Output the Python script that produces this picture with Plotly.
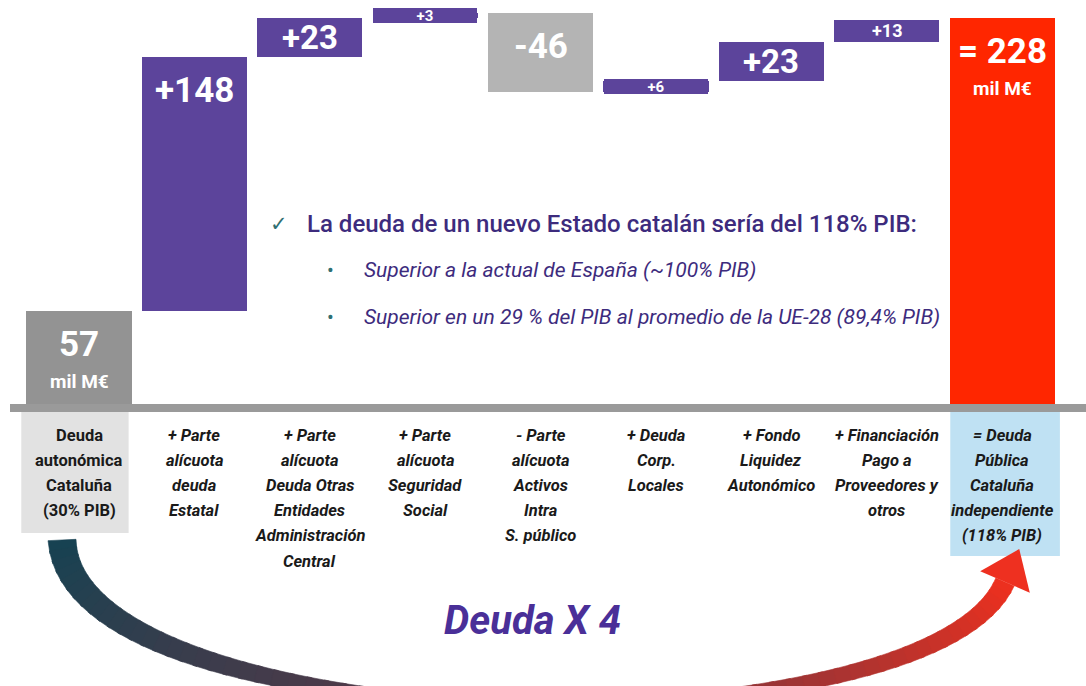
import numpy as np
import plotly.graph_objects as go

# ---------------- data ----------------
categories = [
    ["Deuda", "autonómica", "Cataluña", "(30% PIB)"],
    ["+ Parte", "alícuota", "deuda", "Estatal"],
    ["+ Parte", "alícuota", "Deuda Otras", "Entidades", "Administración", "Central"],
    ["+ Parte", "alícuota", "Seguridad", "Social"],
    ["- Parte", "alícuota", "Activos", "Intra", "S. público"],
    ["+ Deuda", "Corp.", "Locales"],
    ["+ Fondo", "Liquidez", "Autonómico"],
    ["+ Financiación", "Pago a", "Proveedores y", "otros"],
    ["= Deuda", "Pública", "Cataluña", "independiente", "(118% PIB)"],
]
values = [57, 148, 23, 3, -46, 6, 23, 13, 228]
measures = ["absolute", "relative", "relative", "relative", "relative",
            "relative", "relative", "relative", "total"]
unit_label = "mil M€"

headline = "La deuda de un nuevo Estado catalán sería del 118% PIB:"
bullets = ["Superior a la actual de España (~100% PIB)",
           "Superior en un 29 % del PIB al promedio de la UE-28 (89,4% PIB)"]
big_label = "Deuda X 4"

# ---------------- styles ----------------
PURPLE = "#5c449b"
bar_colors = ["#939393", PURPLE, PURPLE, PURPLE, "#b4b4b4", PURPLE, PURPLE, PURPLE, "#ff2600"]
FONT = "Roboto, Liberation Sans, sans-serif"
W, H = 1086, 686
Y0_PX, YTOP_PX = 408, 13   # pixel rows of value 0 and of the max running total

# ---------------- waterfall geometry from data ----------------
bases, heights, tops, bottoms = [], [], [], []
running = 0
for v, m in zip(values, measures):
    if m in ("absolute", "total"):
        b = 0
        running = v
    else:
        b = running
        running = running + v
    bases.append(b)
    heights.append(v)
    tops.append(max(b, b + v))
    bottoms.append(min(b, b + v))

ymax = max(tops)
scale = (Y0_PX - YTOP_PX) / ymax          # px per unit
y_range = [-(H - Y0_PX) / scale, Y0_PX / scale]
x_step = 115.4
x_c0 = 79.0
x_range = [-x_c0 / x_step, (W - x_c0) / x_step]
xs = list(range(len(values)))

fig = go.Figure()
fig.add_trace(go.Bar(
    x=xs, y=heights, base=bases, width=0.91,
    marker=dict(color=bar_colors, line=dict(width=0)),
    hoverinfo="skip", showlegend=False,
))


def ppx(px):
    return px / W


def ppy(py):
    return 1 - py / H


annotations = []
shapes = []

# bar value labels
for i, (v, m) in enumerate(zip(values, measures)):
    hpx = (tops[i] - bottoms[i]) * scale
    if m == "absolute":
        txt = f"<b>{v}</b>"
    elif m == "total":
        txt = f"<b>= {v}</b>"
    else:
        txt = f"<b>{v:+d}</b>"
    if hpx > 70:
        annotations.append(dict(x=i, y=tops[i], xref="x", yref="y", text=txt,
                                showarrow=False, yanchor="top", yshift=-11,
                                font=dict(family=FONT, size=35, color="white")))
        if m != "relative":
            annotations.append(dict(x=i, y=tops[i], xref="x", yref="y",
                                    text=f"<b>{unit_label}</b>",
                                    showarrow=False, yanchor="top", yshift=-57,
                                    font=dict(family=FONT, size=19, color="white")))
    elif hpx > 30:
        annotations.append(dict(x=i, y=(tops[i] + bottoms[i]) / 2, xref="x", yref="y",
                                text=txt, showarrow=False, yanchor="middle",
                                font=dict(family=FONT, size=33, color="white")))
    else:
        small = hpx < 16
        annotations.append(dict(x=i, y=(tops[i] + bottoms[i]) / 2, xref="x", yref="y",
                                text=txt, showarrow=False, yanchor="middle",
                                bgcolor=bar_colors[i] if small else None,
                                width=104 if small else None, height=15 if small else None,
                                borderpad=0, borderwidth=0,
                                font=dict(family=FONT, size=15 if small else 18, color="white")))

# category labels, one line at a time
LINE0, LINE_STEP = 435, 25.2
for i, lines in enumerate(categories):
    for k, ln in enumerate(lines):
        txt = f"<b>{ln}</b>" if i == 0 else f"<b><i>{ln}</i></b>"
        annotations.append(dict(x=i, y=ppy(LINE0 + k * LINE_STEP), xref="x", yref="paper",
                                text=txt, showarrow=False, yanchor="middle",
                                font=dict(family=FONT, size=16.5, color="#1a1a1a")))

# label background boxes
shapes.append(dict(type="rect", xref="x", yref="paper", x0=-0.5, x1=0.43,
                   y0=ppy(533), y1=ppy(410), fillcolor="#e2e2e2", line=dict(width=0),
                   layer="below"))
n = len(values) - 1
shapes.append(dict(type="rect", xref="x", yref="paper", x0=n - 0.45, x1=n + 0.5,
                   y0=ppy(556), y1=ppy(410), fillcolor="#bfe1f3", line=dict(width=0),
                   layer="below"))

# baseline
shapes.append(dict(type="line", xref="paper", yref="y", x0=ppx(10), x1=1, y0=0, y1=0,
                   line=dict(color="#9a9a9a", width=8), layer="above"))

# commentary text
TXT = "#3d2b7d"
annotations.append(dict(x=ppx(268), y=ppy(224), xref="paper", yref="paper",
                        text="✓", showarrow=False, xanchor="left", yanchor="middle",
                        font=dict(family="DejaVu Sans", size=21, color="#2f6f72")))
annotations.append(dict(x=ppx(305), y=ppy(224), xref="paper", yref="paper",
                        text=headline, showarrow=False, xanchor="left",
                        yanchor="middle",
                        font=dict(family=FONT, size=24, weight=500, color=TXT)))
for k, b in enumerate(bullets):
    yy = 270 + k * 47
    annotations.append(dict(x=ppx(325), y=ppy(yy), xref="paper", yref="paper",
                            text="•", showarrow=False, xanchor="left", yanchor="middle",
                            font=dict(family=FONT, size=20, color="#2f6f72")))
    annotations.append(dict(x=ppx(362), y=ppy(yy), xref="paper", yref="paper",
                            text=f"<i>{b}</i>", showarrow=False, xanchor="left",
                            yanchor="middle",
                            font=dict(family=FONT, size=21, color=TXT)))

annotations.append(dict(x=ppx(532), y=ppy(620), xref="paper", yref="paper",
                        text=f"<b><i>{big_label}</i></b>", showarrow=False,
                        xanchor="center", yanchor="middle",
                        font=dict(family=FONT, size=40, color="#4a2f98")))

# ---------------- decorative curved arrow ----------------
P0 = np.array([62.0, 540.0])
P1 = np.array([72.0, 748.0])
P2 = np.array([930.0, 756.0])
P3 = np.array([1005.0, 582.0])


def bez(t):
    return (1 - t) ** 3 * P0 + 3 * (1 - t) ** 2 * t * P1 + 3 * (1 - t) * t ** 2 * P2 + t ** 3 * P3


def dbez(t):
    return (3 * (1 - t) ** 2 * (P1 - P0) + 6 * (1 - t) * t * (P2 - P1) + 3 * t ** 2 * (P3 - P2))


def width_at(t):
    return float(np.interp(t, [0, 0.5, 1.0], [28, 9, 20]))


c_start = np.array([22, 66, 82])
c_mid = np.array([95, 55, 70])
c_end = np.array([238, 48, 30])


def color_at(t):
    if t < 0.5:
        c = c_start + (c_mid - c_start) * (t / 0.5)
    else:
        c = c_mid + (c_end - c_mid) * ((t - 0.5) / 0.5)
    return "rgb(%d,%d,%d)" % tuple(int(round(x)) for x in c)


def edge_pts(t):
    p = bez(t)
    d = dbez(t)
    d = d / np.linalg.norm(d)
    nrm = np.array([-d[1], d[0]])
    w = width_at(t) / 2
    return p + nrm * w, p - nrm * w


def path_from(pts):
    return "M " + " L ".join(f"{ppx(x):.5f},{ppy(y):.5f}" for x, y in pts) + " Z"


N = 70
ts = np.linspace(0, 1, N + 1)
for k in range(N):
    ta, tb = ts[k], min(1.0, ts[k + 1] + 0.004)
    la, ra = edge_pts(ta)
    lb, rb = edge_pts(tb)
    col = color_at((ta + tb) / 2)
    shapes.append(dict(type="path", xref="paper", yref="paper",
                       path=path_from([la, lb, rb, ra]),
                       fillcolor=col, line=dict(width=0.6, color=col), layer="above"))

d_end = dbez(1.0)
d_end = d_end / np.linalg.norm(d_end)
n_end = np.array([-d_end[1], d_end[0]])
tip = P3 + d_end * 36
cl = P3 + n_end * 27
cr = P3 - n_end * 27
shapes.append(dict(type="path", xref="paper", yref="paper",
                   path=path_from([cl, tip, cr]), fillcolor="#ee3020",
                   line=dict(width=0), layer="above"))

fig.update_layout(
    width=W, height=H,
    margin=dict(l=0, r=0, t=0, b=0),
    paper_bgcolor="white", plot_bgcolor="white",
    xaxis=dict(range=x_range, visible=False, fixedrange=True),
    yaxis=dict(range=y_range, visible=False, fixedrange=True),
    bargap=0, showlegend=False,
    annotations=annotations, shapes=shapes,
)

fig.write_html("out.html", config={"displayModeBar": False},
               post_script="document.body.style.margin='0';document.body.style.overflow='hidden';")
